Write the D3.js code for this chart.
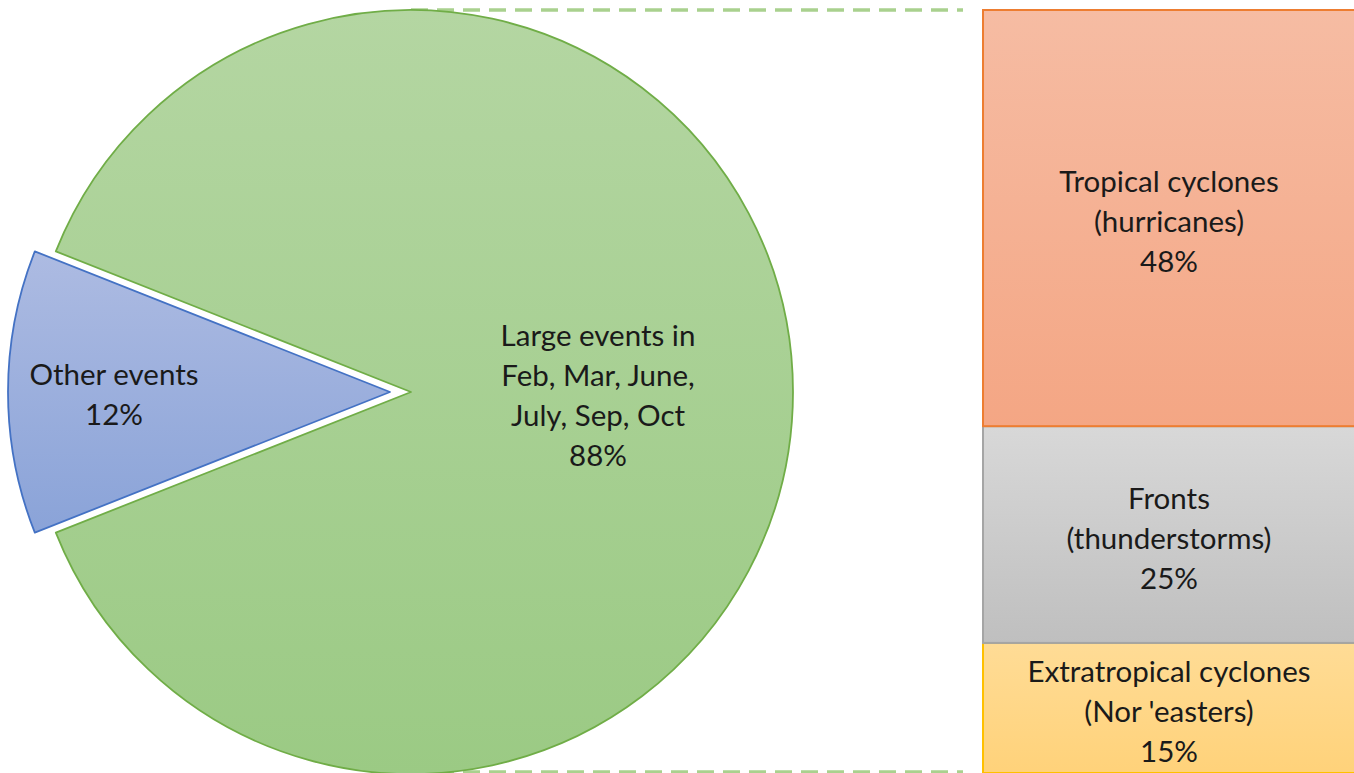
<!DOCTYPE html>
<html>
<head>
<meta charset="utf-8">
<script src="https://cdn.jsdelivr.net/npm/d3@7"></script>
<style>
  html, body { margin: 0; padding: 0; background: #ffffff; }
  svg { display: block; }
  text { font-family: Lato, "Open Sans", sans-serif; fill: #1a1a1a; }
</style>
</head>
<body>
<svg id="chart" width="1354" height="773"></svg>
<script>
// Pie: share of damage by event type
const pieLabels = [["Large events in", "Feb, Mar, June,", "July, Sep, Oct"], ["Other events"]];
const pieValues = [88, 12];

// Bar: breakdown of the large events by storm type (stacked bottom to top)
const barLabels = [
  ["Extratropical cyclones", "(Nor 'easters)"],
  ["Fronts", "(thunderstorms)"],
  ["Tropical cyclones", "(hurricanes)"]
];
const barValues = [15, 25, 48];

const W = 1354, H = 773;
const fontSize = 29.5, lineGap = 40;
const svg = d3.select("#chart");
const defs = svg.append("defs");

function vGrad(id, top, bottom) {
  const g = defs.append("linearGradient").attr("id", id)
    .attr("x1", 0).attr("y1", 0).attr("x2", 0).attr("y2", 1);
  g.append("stop").attr("offset", "0%").attr("stop-color", top);
  g.append("stop").attr("offset", "100%").attr("stop-color", bottom);
}
vGrad("gGreen", "#b4d6a2", "#9bca84");
vGrad("gBlue", "#adbbe2", "#8aa3d8");
vGrad("gOrange", "#f6bca3", "#f4a684");
vGrad("gGray", "#d8d8d8", "#bfbfbf");
vGrad("gYellow", "#ffdc96", "#ffd27a");

const pieFill = ["url(#gGreen)", "url(#gBlue)"];
const pieStroke = ["#70ad47", "#4472c4"];
const barFill = ["url(#gYellow)", "url(#gGray)", "url(#gOrange)"];
const barStroke = ["#ffc000", "#a5a5a5", "#ed7d31"];

// ---- pie ----
const cx = 411, cy = 392, r = 382, explode = 21;
const total = d3.sum(pieValues);
// rotate so the small slice is centred on the left (3π/2)
const start = 1.5 * Math.PI - (pieValues[0] + pieValues[1] / 2) / total * 2 * Math.PI;
const pie = d3.pie().sort(null).startAngle(start).endAngle(start + 2 * Math.PI);
const arcs = pie(pieValues);
const arc = d3.arc().innerRadius(0).outerRadius(r);

// ---- bar ----
const barX = 983, barW = 376;
const y = d3.scaleLinear().domain([0, d3.sum(barValues)]).range([H, 10]);
const stack = [];
let acc = 0;
barValues.forEach((v, i) => { stack.push({ i, y0: acc, y1: acc + v, v }); acc += v; });

// connector lines between pie and bar
const connColor = "#a9d18e";
[y.range()[1], H - 1].forEach(yy => {
  svg.append("line")
    .attr("x1", cx).attr("x2", barX - 20)
    .attr("y1", yy).attr("y2", yy)
    .attr("stroke", connColor).attr("stroke-width", 3.5)
    .attr("stroke-dasharray", "17,9");
});

const pg = svg.append("g");
pg.selectAll("path").data(arcs).join("path")
  .attr("transform", (d, i) => `translate(${cx - (i === 1 ? explode : 0)},${cy})`)
  .attr("d", arc)
  .attr("fill", (d, i) => pieFill[i])
  .attr("stroke", (d, i) => pieStroke[i])
  .attr("stroke-width", 1.8)
  .attr("stroke-linejoin", "round");

// pie labels
const pieLabelPos = [[598, 336], [114, 375]];
arcs.forEach((d, i) => {
  const lines = pieLabels[i].concat([Math.round(d.value / total * 100) + "%"]);
  const t = svg.append("text").attr("text-anchor", "middle").attr("font-size", fontSize);
  lines.forEach((s, k) => {
    t.append("tspan").attr("x", pieLabelPos[i][0]).attr("y", pieLabelPos[i][1] + k * lineGap + 10).text(s);
  });
});

// bar segments
const bg = svg.append("g");
bg.selectAll("rect").data(stack).join("rect")
  .attr("x", barX).attr("width", barW)
  .attr("y", d => y(d.y1)).attr("height", d => y(d.y0) - y(d.y1))
  .attr("fill", d => barFill[d.i])
  .attr("stroke", d => barStroke[d.i]).attr("stroke-width", 2);

stack.forEach(d => {
  const lines = barLabels[d.i].concat([d.v + "%"]);
  const mid = (y(d.y0) + y(d.y1)) / 2;
  const t = svg.append("text").attr("text-anchor", "middle").attr("font-size", fontSize);
  lines.forEach((s, k) => {
    t.append("tspan").attr("x", barX + barW / 2 - 2)
      .attr("y", mid + (k - 1) * lineGap + 14).text(s);
  });
});
</script>
</body>
</html>
